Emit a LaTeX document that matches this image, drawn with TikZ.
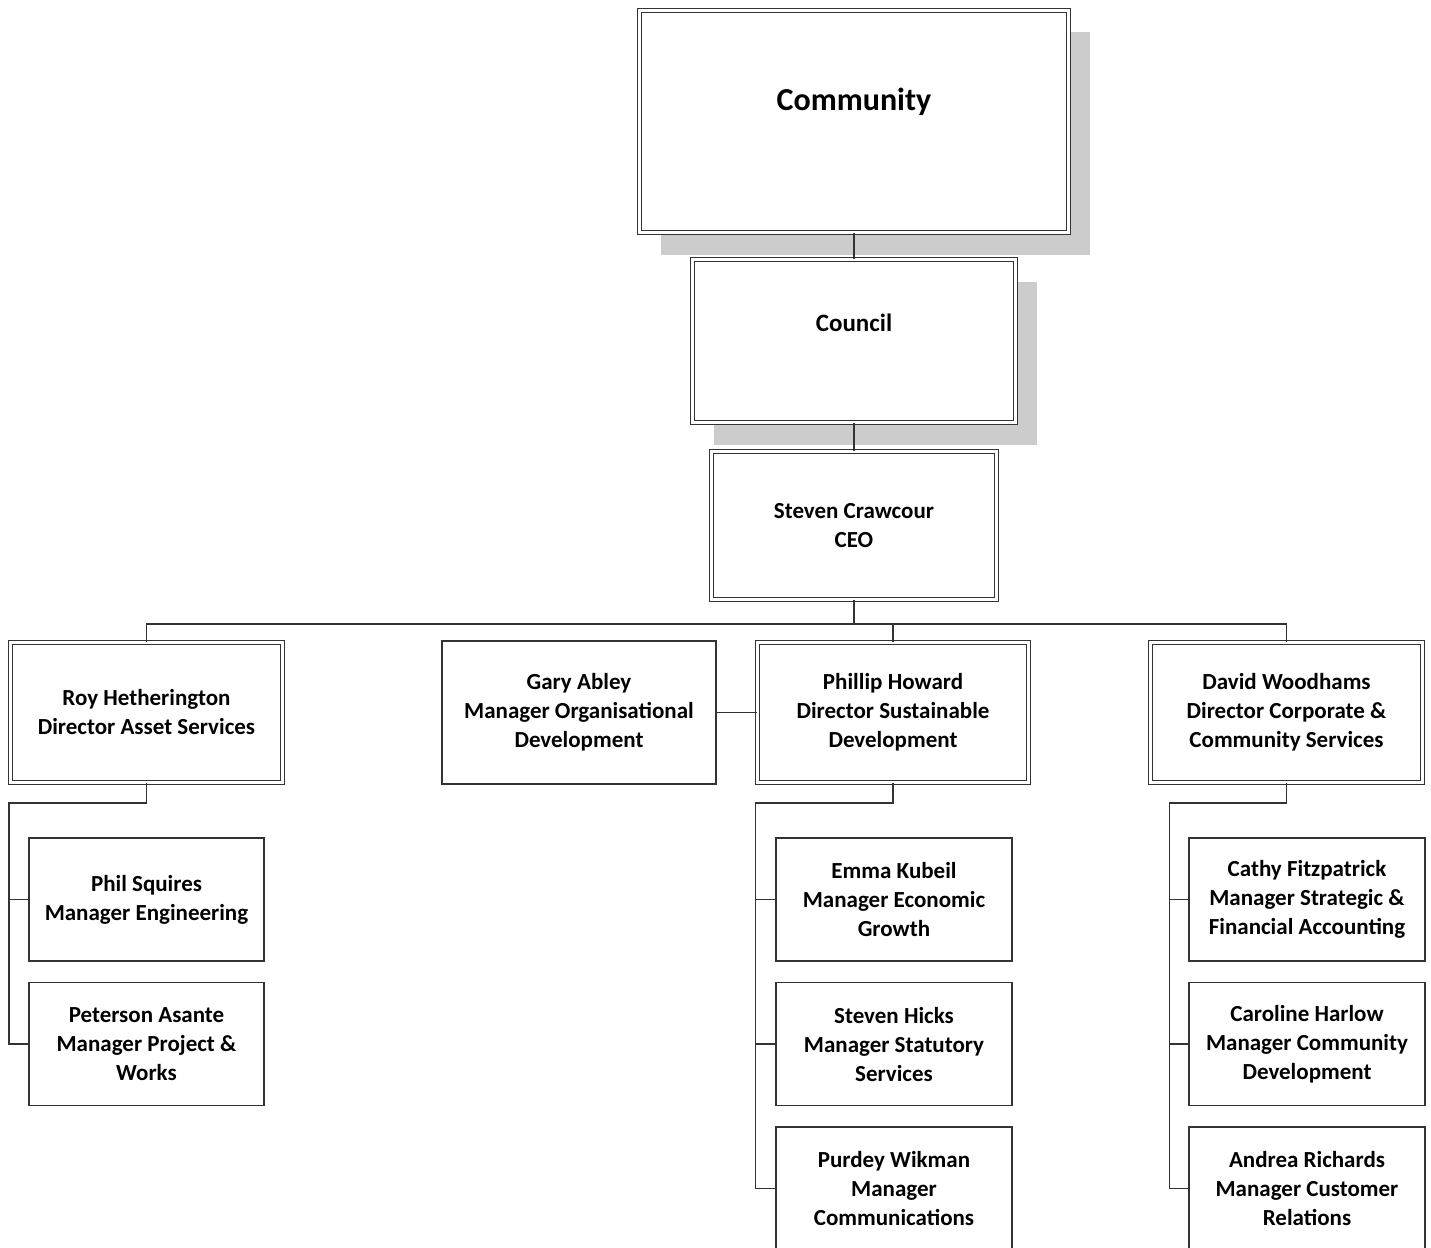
\documentclass[tikz,border=0pt]{standalone}
\usepackage{fontspec}
\setmainfont{Carlito}
\usetikzlibrary{positioning,calc,shadows}
\definecolor{ink}{HTML}{333333}
\definecolor{shade}{HTML}{CCCCCC}
\tikzset{
  unit/.style={draw=ink, line width=1.6pt, fill=white, align=center, inner sep=0pt,
    font=\fontsize{23}{29}\selectfont\bfseries, text=black},
  headunit/.style={unit, double=white, double distance=2.2pt, line width=1.3pt},
  shadowed/.style={general shadow={fill=shade, shadow xshift=21pt, shadow yshift=-22pt}},
  mgr/.style={unit, minimum width=235.5pt, minimum height=123pt},
  link/.style={draw=ink, line width=1.6pt}
}
\begin{document}
\begin{tikzpicture}[x=1pt,y=-1pt]
  \useasboundingbox (0,0) rectangle (1431,1247);
  % top of the chart
  \node[headunit, shadowed, minimum width=323pt, minimum height=163pt,
    font=\fontsize{25}{30}\selectfont\bfseries, text height=17pt, text depth=37pt] (council) at (854,341) {Council};
  \node[headunit, shadowed, minimum width=429pt, minimum height=222pt,
    font=\fontsize{32}{38}\selectfont\bfseries, text height=22pt, text depth=45pt] (community) at (854,121.5) {Community};
  \node[headunit, minimum width=285pt, minimum height=148pt] (ceo) at (854,525.5) {Steven Crawcour\\CEO};

  % directors
  \node[headunit, minimum width=272pt, minimum height=140pt] (roy) at (146.5,712.5) {Roy Hetherington\\Director Asset Services};
  \node[unit, minimum width=274.5pt, minimum height=143.5pt] (gary) at (579,712.5) {Gary Abley\\Manager Organisational\\Development};
  \node[headunit, minimum width=271pt, minimum height=140pt] (phillip) at (893,712.5) {Phillip Howard\\Director Sustainable\\Development};
  \node[headunit, minimum width=272pt, minimum height=140pt] (david) at (1286.5,712.5) {David Woodhams\\Director Corporate \&\\Community Services};

  % managers
  \node[mgr] (phil) at (146.5,899.5) {Phil Squires\\Manager Engineering};
  \node[mgr] (peterson) at (146.5,1044) {Peterson Asante\\Manager Project \&\\Works};
  \node[mgr] (emma) at (894,899.5) {Emma Kubeil\\Manager Economic\\Growth};
  \node[mgr] (hicks) at (894,1044) {Steven Hicks\\Manager Statutory\\Services};
  \node[mgr] (purdey) at (894,1188.5) {Purdey Wikman\\Manager\\Communications};
  \node[mgr] (cathy) at (1307,899.5) {Cathy Fitzpatrick\\Manager Strategic \&\\Financial Accounting};
  \node[mgr] (caroline) at (1307,1044) {Caroline Harlow\\Manager Community\\Development};
  \node[mgr] (andrea) at (1307,1188.5) {Andrea Richards\\Manager Customer\\Relations};

  \draw[link] (community.south) -- (council.north);
  \draw[link] (council.south) -- (ceo.north);
  \coordinate (bus) at (854,624);
  \draw[link] (ceo.south) -- (bus);
  \draw[link] (bus) -| (roy.north);
  \draw[link] (bus) -| (phillip.north);
  \draw[link] (bus) -| (david.north);
  \draw[link] (gary.east) -- (phillip.west);

  % branches down the left side
  \draw[link] (roy.south) -- ++(0,20) -| ($(peterson.west)+(-19,0)$) -- (peterson.west);
  \draw[link] (phil.west) -- ++(-19,0);
  \draw[link] (phillip.south) -- ++(0,20) -| ($(purdey.west)+(-20,0)$) -- (purdey.west);
  \draw[link] (emma.west) -- ++(-20,0);
  \draw[link] (hicks.west) -- ++(-20,0);
  \draw[link] (david.south) -- ++(0,20) -| ($(andrea.west)+(-19,0)$) -- (andrea.west);
  \draw[link] (cathy.west) -- ++(-19,0);
  \draw[link] (caroline.west) -- ++(-19,0);
\end{tikzpicture}
\end{document}
